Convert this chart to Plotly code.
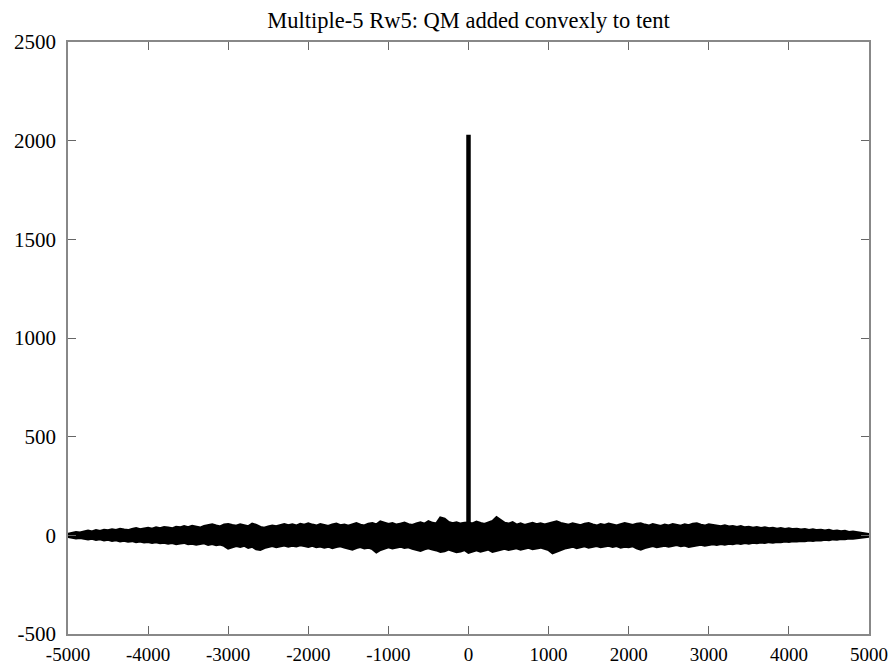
import numpy as np
import plotly.graph_objects as go

# x grid of the envelope samples (step 50, -5000..5000)
x_start, x_stop, x_step = -5000, 5000, 50

# upper edge of the noise band
upper = [
    5, 10, 14, 12, 18, 22, 17, 24, 20, 26, 23, 28, 25, 31, 27, 24, 30, 34, 28, 33,
    36, 31, 38, 34, 40, 37, 33, 41, 38, 44, 39, 46, 42, 37, 45, 50, 54, 48, 43, 52,
    55, 50, 46, 53, 49, 44, 57, 51, 40, 36, 42, 47, 44, 50, 55, 49, 53, 47, 56, 51,
    58, 52, 47, 55, 50, 45, 53, 57, 49, 52, 46, 54, 59, 51, 48, 56, 60, 53, 68, 62,
    55, 60, 52, 57, 62, 54, 50, 58, 63, 56, 69, 61, 58, 88, 82, 66, 59, 64, 57, 61,
    62, 58, 67, 60, 55, 63, 70, 89, 76, 61, 57, 64, 52, 58, 50, 56, 61, 54, 59, 53,
    57, 62, 68, 60, 55, 51, 58, 54, 49, 56, 60, 53, 47, 55, 50, 57, 52, 48, 54, 60,
    55, 50, 56, 58, 52, 47, 54, 49, 45, 52, 48, 55, 50, 46, 53, 49, 56, 58, 51, 47,
    54, 50, 46, 44, 48, 42, 45, 40, 44, 38, 41, 36, 39, 35, 38, 33, 36, 31, 34, 30,
    33, 29, 31, 27, 30, 25, 28, 24, 26, 22, 25, 20, 22, 18, 20, 15, 17, 13, 11, 8,
    4,
]

# lower edge of the noise band
lower = [
    -6, -10, -13, -11, -16, -19, -15, -21, -18, -24, -20, -26, -23, -28, -25, -30, -27, -32, -29, -34,
    -31, -36, -33, -38, -35, -40, -37, -42, -39, -36, -43, -40, -45, -41, -38, -46, -42, -48, -44, -51,
    -65, -58, -52, -56, -50, -61, -55, -68, -72, -62, -57, -52, -58, -53, -49, -55, -50, -54, -48, -52,
    -56, -51, -58, -54, -60, -55, -62, -57, -53, -59, -66, -70, -62, -57, -64, -60, -67, -84, -72, -63,
    -58, -64, -60, -55, -62, -58, -66, -72, -76, -68, -63, -70, -74, -82, -78, -70, -75, -83, -80, -72,
    -86, -78, -73, -80, -75, -70, -82, -77, -71, -66, -72, -68, -63, -70, -65, -61, -68, -64, -60, -66,
    -72, -88, -80, -70, -65, -60, -55, -62, -58, -53, -60, -56, -52, -58, -54, -50, -56, -52, -60, -55,
    -58, -53, -64, -70, -62, -56, -52, -58, -54, -50, -55, -51, -47, -53, -49, -56, -52, -48, -45, -50,
    -47, -43, -46, -42, -45, -40, -43, -38, -41, -37, -40, -35, -38, -34, -36, -32, -35, -31, -33, -29,
    -31, -27, -29, -26, -28, -24, -26, -22, -24, -20, -22, -18, -20, -16, -17, -14, -15, -12, -10, -8,
    -5,
]

# central spike
spike_x = 0
spike_y = 2030

x_ticks = [-5000, -4000, -3000, -2000, -1000, 0, 1000, 2000, 3000, 4000, 5000]
y_ticks = [-500, 0, 500, 1000, 1500, 2000, 2500]

title = "Multiple-5 Rw5: QM added convexly to tent"

xs = np.arange(x_start, x_stop + x_step, x_step)

fig = go.Figure()
fig.add_trace(go.Scatter(x=xs, y=upper, mode="lines",
                         line=dict(color="black", width=3), hoverinfo="skip"))
fig.add_trace(go.Scatter(x=xs, y=lower, mode="lines", fill="tonexty",
                         fillcolor="black",
                         line=dict(color="black", width=3), hoverinfo="skip"))
fig.add_trace(go.Scatter(x=[spike_x, spike_x], y=[0, spike_y], mode="lines",
                         line=dict(color="black", width=4.5)))

font = dict(family="Liberation Serif, Times New Roman, serif", size=21, color="black")

L, R, T, B = 68, 869, 42, 634
fig.update_layout(
    width=895, height=669,
    margin=dict(l=L, r=895 - R, t=T, b=669 - B, autoexpand=False),
    paper_bgcolor="white", plot_bgcolor="white",
    showlegend=False,
    font=font,
    title=dict(text=title, x=(L + R) / 2 / 895, xanchor="center",
               y=1 - 20 / 669, yanchor="middle", font=dict(size=22.5)),
)
fig.update_xaxes(range=[-5000, 5000], tickvals=x_ticks, ticktext=[str(v) for v in x_ticks],
                 showgrid=False, zeroline=False, showline=True, linecolor="#888888",
                 linewidth=1.5, mirror="ticks", ticks="inside", ticklen=8,
                 tickcolor="#666666", tickwidth=1.2, ticklabelstandoff=2,
                 tickfont=dict(size=19), automargin=False)
fig.update_yaxes(range=[-500, 2500], tickvals=y_ticks, ticktext=[str(v) for v in y_ticks],
                 showgrid=False, zeroline=False, showline=True, linecolor="#888888",
                 linewidth=1.5, mirror="ticks", ticks="inside", ticklen=8,
                 tickcolor="#666666", tickwidth=1.2, ticklabelstandoff=6,
                 automargin=False)

fig.write_html("out.html")
